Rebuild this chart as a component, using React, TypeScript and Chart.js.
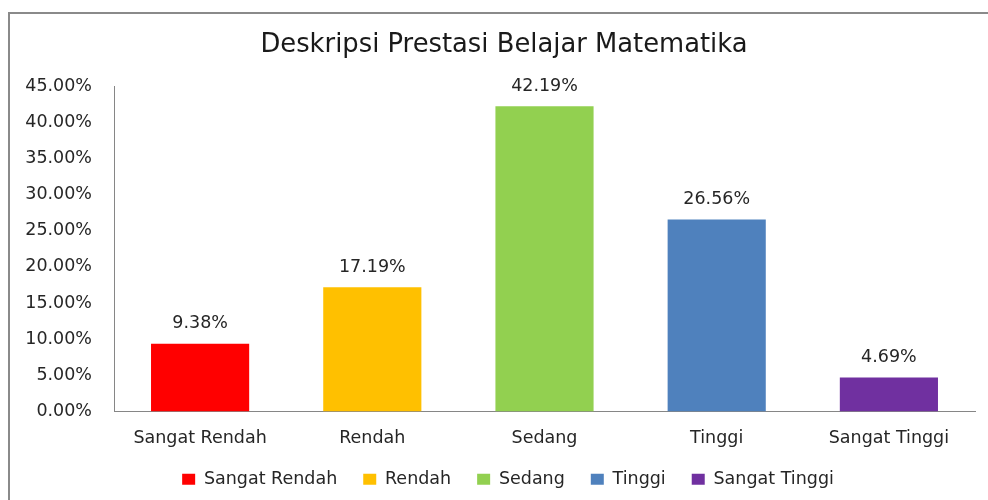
import React, { useEffect, useRef } from "react";
import { Chart, registerables } from "chart.js";

Chart.register(...registerables);

const categories = ["Sangat Rendah", "Rendah", "Sedang", "Tinggi", "Sangat Tinggi"];
const values = [9.38, 17.19, 42.19, 26.56, 4.69];
const colors = ["#FF0000", "#FFC000", "#92D050", "#4F81BD", "#7030A0"];
const yTicks = [0, 5, 10, 15, 20, 25, 30, 35, 40, 45];
const titleText = "Deskripsi Prestasi Belajar Matematika";

const FONT = "'DejaVu Sans', sans-serif";
const TEXT = "#262626";
const PAD_LEFT = 28;

const titleAndLabels = {
  id: "titleAndLabels",
  afterDraw(chart: any) {
    const ctx = chart.ctx;
    ctx.save();
    ctx.font = `25.8px ${FONT}`;
    ctx.fillStyle = "#1a1a1a";
    ctx.textAlign = "center";
    ctx.textBaseline = "middle";
    ctx.fillText(titleText, 504, 45);
    ctx.restore();
  },
  afterDatasetsDraw(chart: any) {
    const ctx = chart.ctx;
    ctx.save();
    ctx.font = `17.5px ${FONT}`;
    ctx.fillStyle = TEXT;
    ctx.textAlign = "center";
    ctx.textBaseline = "middle";
    chart.data.datasets.forEach((ds: any, di: number) => {
      const meta = chart.getDatasetMeta(di);
      meta.data.forEach((bar: any, i: number) => {
        const v = ds.data[i];
        if (v == null) return;
        ctx.fillText(v.toFixed(2) + "%", bar.x, bar.y - 20);
      });
    });
    ctx.restore();
  },
};

export default function App() {
  const ref = useRef<HTMLCanvasElement>(null);
  useEffect(() => {
    if (!ref.current) return;
    const datasets = categories.map((c, i) => ({
      label: c,
      data: categories.map((_, j) => (j === i ? values[i] : null)),
      backgroundColor: colors[i],
      barPercentage: 0.57,
      categoryPercentage: 1,
      skipNull: true,
    }));
    const chart = new Chart(ref.current, {
      type: "bar",
      data: { labels: categories, datasets: datasets as any },
      options: {
        animation: false,
        responsive: false,
        maintainAspectRatio: false,
        layout: { padding: { left: PAD_LEFT, right: 0, top: 86, bottom: 2 } },
        plugins: {
          title: { display: false },
          legend: {
            position: "bottom",
            labels: {
              color: TEXT,
              font: { family: FONT, size: 17.5 },
              boxWidth: 13,
              boxHeight: 11,
              padding: 26,
            },
          },
          tooltip: { enabled: false },
        },
        scales: {
          x: {
            grid: { display: false, drawTicks: false },
            border: { color: "#868686", width: 1 },
            ticks: { color: TEXT, font: { family: FONT, size: 17.5 }, padding: 16, maxRotation: 0 },
            afterFit: (s: any) => {
              s.height = 33;
              s._computeLabelArea = () => undefined;
            },
          },
          y: {
            min: 0,
            max: 45,
            afterBuildTicks: (s: any) => {
              s.ticks = yTicks.map((v) => ({ value: v }));
            },
            afterFit: (s: any) => {
              s.width = 114 - PAD_LEFT;
              s._computeLabelArea = () => undefined;
            },
            grid: { display: false, drawTicks: false },
            border: { color: "#868686", width: 1 },
            ticks: {
              color: TEXT,
              font: { family: FONT, size: 17.5 },
              padding: 22,
              callback: (v: any) => Number(v).toFixed(2) + "%",
            },
          },
          yRight: {
            position: "right",
            display: true,
            grid: { display: false, drawTicks: false },
            border: { display: false },
            ticks: { display: false },
            afterFit: (s: any) => {
              s.width = 13;
            },
          },
        },
      },
      plugins: [titleAndLabels],
    });
    return () => chart.destroy();
  }, []);
  return (
    <div style={{ position: "fixed", left: 0, top: 0, width: 988, height: 500, background: "#fff", overflow: "hidden" }}>
      <div
        style={{
          position: "absolute",
          left: 8,
          top: 12,
          width: 1200,
          height: 800,
          borderTop: "2px solid #8a8a8a",
          borderLeft: "2px solid #8a8a8a",
        }}
      />
      <canvas ref={ref} width={988} height={500} style={{ position: "absolute", left: 0, top: 0 }} />
    </div>
  );
}
